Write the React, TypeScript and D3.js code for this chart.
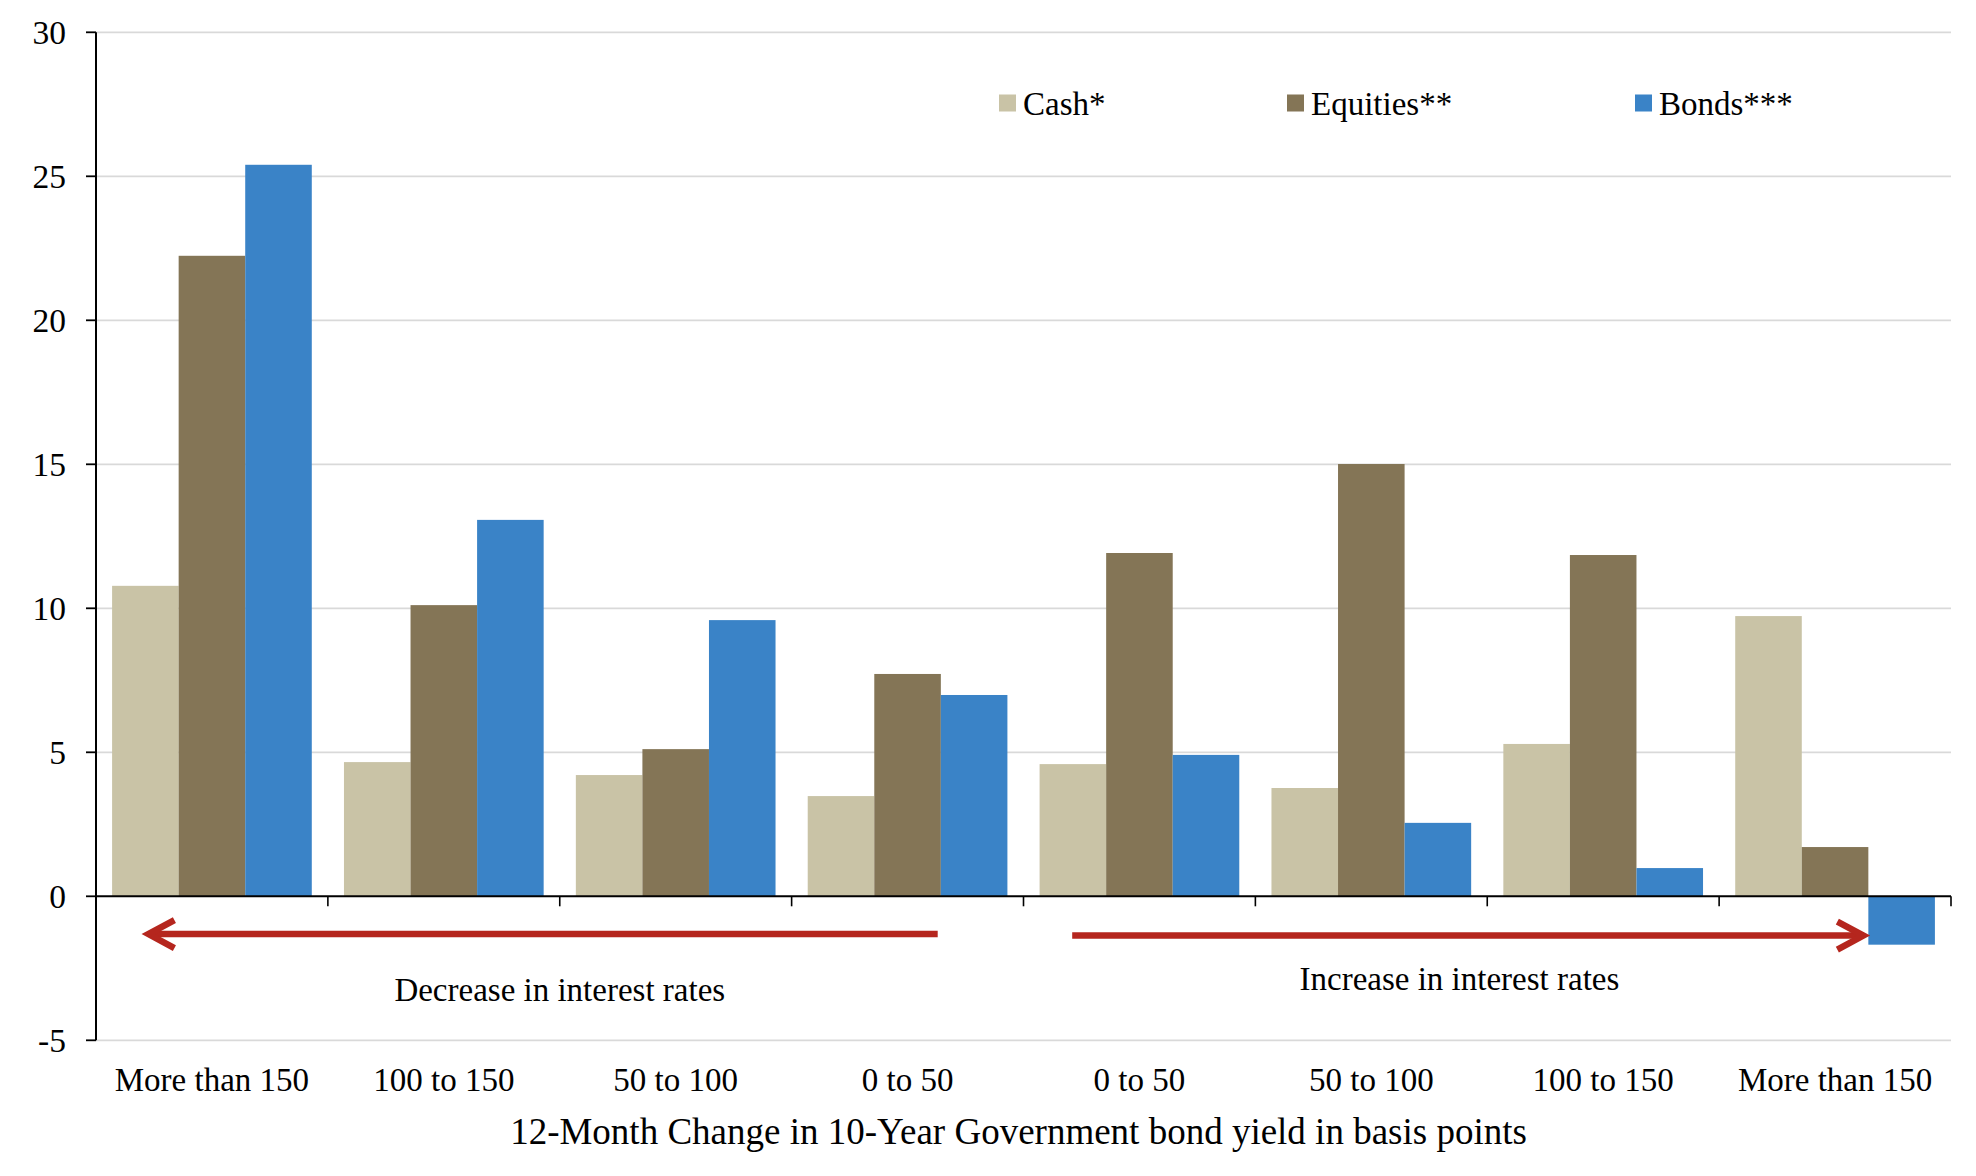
import React from "react";
import * as d3 from "d3";

const categories = ["More than 150", "100 to 150", "50 to 100", "0 to 50", "0 to 50", "50 to 100", "100 to 150", "More than 150"];
const seriesNames = ["Cash*", "Equities**", "Bonds***"];
const cash = [10.78, 4.66, 4.21, 3.48, 4.59, 3.76, 5.29, 9.73];
const equities = [22.24, 10.11, 5.11, 7.72, 11.92, 15.01, 11.85, 1.71];
const bonds = [25.4, 13.07, 9.59, 6.99, 4.91, 2.55, 0.98, -1.68];
const yTicks = [-5, 0, 5, 10, 15, 20, 25, 30];
const xTitle = "12-Month Change in 10-Year Government bond yield in basis points";
const decreaseLabel = "Decrease in interest rates";
const increaseLabel = "Increase in interest rates";

const colors = ["#C9C3A6", "#847556", "#3A83C7"];
const FONT = "'Liberation Serif', 'Times New Roman', serif";

export default function App() {
  const W = 1976, H = 1176;
  const left = 96, right = 1951, top = 32.3, bottom = 1040.3;
  const series = [cash, equities, bonds];

  const y = d3.scaleLinear().domain([-5, 30]).range([bottom, top]);
  const idx = d3.range(categories.length);
  const x0 = d3.scaleBand<number>().domain(idx).range([left, right]).paddingInner(0.1388).paddingOuter(0.0694);
  const x1 = d3.scaleBand<number>().domain([0, 1, 2]).range([0, x0.bandwidth()]);
  const xc = d3.scaleLinear().domain([0, categories.length]).range([left, right]);
  const y0 = y(0);

  const red = "#B5261E";
  const arrowY = y(-1.31);
  const lTip = xc(0.198) + 6.5, lEnd = xc(3.63);
  const rStart = xc(4.21), rTip = xc(7.65) - 6.5;

  const legendX = [999, 1287, 1635];

  return (
    <div style={{ position: "absolute", left: 0, top: 0 }}>
      <svg width={W} height={H} style={{ display: "block", background: "#fff" }} fontFamily={FONT}>
        {/* gridlines */}
        {yTicks.filter((t) => t !== 0).map((t) => (
          <line key={"g" + t} x1={left} x2={right} y1={y(t)} y2={y(t)} stroke="#D9D9D9" strokeWidth={1.8} />
        ))}
        {/* bars */}
        {idx.map((i) => (
          <g key={"grp" + i} transform={`translate(${x0(i)},0)`}>
            {series.map((s, k) => (
              <rect
                key={k}
                x={x1(k)}
                width={x1.bandwidth()}
                y={Math.min(y(s[i]), y0)}
                height={Math.abs(y(s[i]) - y0)}
                fill={colors[k]}
              />
            ))}
          </g>
        ))}
        {/* y axis */}
        <line x1={left} x2={left} y1={top} y2={bottom} stroke="#000" strokeWidth={2} />
        {yTicks.map((t) => (
          <g key={"yt" + t}>
            <line x1={left - 10} x2={left} y1={y(t)} y2={y(t)} stroke="#000" strokeWidth={1.8} />
            <text x={66} y={y(t) + 11.5} textAnchor="end" fontSize={33.5} fill="#000">
              {t}
            </text>
          </g>
        ))}
        {/* x axis */}
        <line x1={left} x2={right} y1={y0} y2={y0} stroke="#000" strokeWidth={2} />
        {d3.range(1, categories.length + 1).map((k) => (
          <line key={"xt" + k} x1={xc(k)} x2={xc(k)} y1={y0} y2={y0 + 10} stroke="#000" strokeWidth={1.6} />
        ))}
        {categories.map((c, i) => (
          <text key={"cl" + i} x={x0(i)! + x0.bandwidth() / 2} y={1091} textAnchor="middle" fontSize={33} fill="#000">
            {c}
          </text>
        ))}
        <text x={(left + right) / 2 - 5} y={1144} textAnchor="middle" fontSize={37} fill="#000">
          {xTitle}
        </text>
        {/* arrows */}
        <g stroke={red} strokeWidth={6.5} fill="none" strokeLinecap="butt">
          <line x1={lTip + 2} x2={lEnd} y1={arrowY} y2={arrowY} />
          <polyline points={`${lTip + 26},${arrowY - 14} ${lTip},${arrowY} ${lTip + 26},${arrowY + 14}`} strokeLinejoin="miter" />
          <line x1={rStart} x2={rTip - 2} y1={arrowY + 1.5} y2={arrowY + 1.5} />
          <polyline points={`${rTip - 26},${arrowY + 1.5 - 14} ${rTip},${arrowY + 1.5} ${rTip - 26},${arrowY + 1.5 + 14}`} strokeLinejoin="miter" />
        </g>
        <text x={xc(2.0)} y={y(-3.63)} textAnchor="middle" fontSize={33} fill="#000">
          {decreaseLabel}
        </text>
        <text x={xc(5.88)} y={y(-3.27)} textAnchor="middle" fontSize={33} fill="#000">
          {increaseLabel}
        </text>
        {/* legend */}
        {seriesNames.map((n, k) => (
          <g key={"lg" + k}>
            <rect x={legendX[k]} y={94.5} width={17} height={17} fill={colors[k]} />
            <text x={legendX[k] + 24} y={115} fontSize={33} fill="#000">
              {n}
            </text>
          </g>
        ))}
      </svg>
    </div>
  );
}
